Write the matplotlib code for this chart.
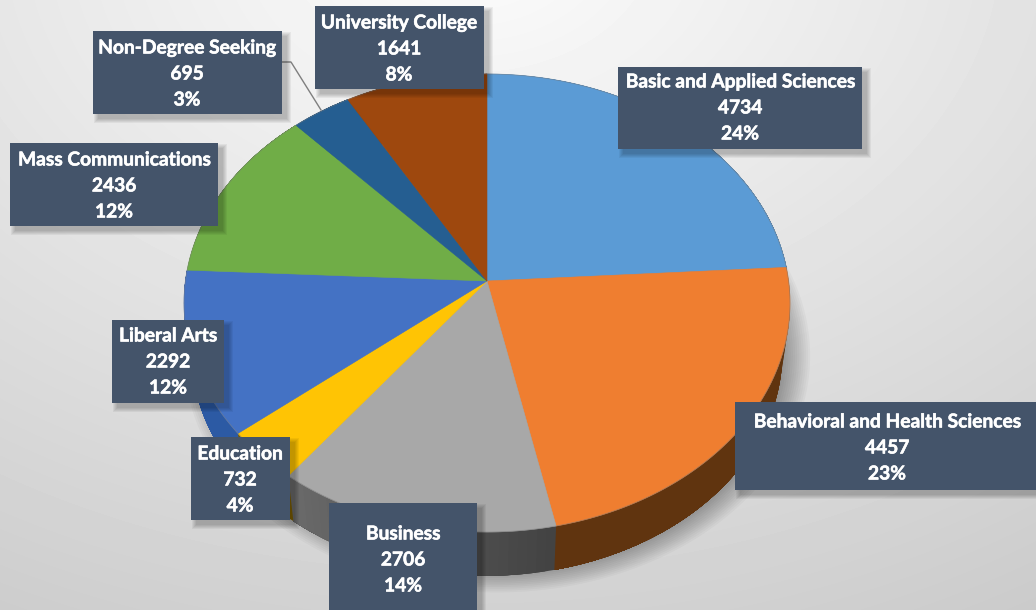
import numpy as np
import matplotlib
matplotlib.use('Agg')
import matplotlib.pyplot as plt
from matplotlib.colors import to_rgb
from matplotlib.patches import Rectangle
import matplotlib.patheffects as pe

names = ['Basic and Applied Sciences', 'Behavioral and Health Sciences', 'Business', 'Education',
         'Liberal Arts', 'Mass Communications', 'Non-Degree Seeking', 'University College']
values = [4734, 4457, 2706, 732, 2292, 2436, 695, 1641]
percents = [24, 23, 14, 4, 12, 12, 3, 8]

top_colors = ['#5b9bd5', '#ef7e30', '#a8a8a8', '#ffc404', '#4472c4', '#70ad47', '#255e91', '#9e480e']
# side colour at the start and the end of each slice
side_start = ['#3d6f9e', '#60340f', '#434343', '#7a5c00', '#2c5aa4', '#4a7a2c', '#1a4468', '#6a3009']
side_end = ['#3d6f9e', '#60340f', '#6a6a6a', '#7a5c00', '#2c5aa4', '#4a7a2c', '#1a4468', '#6a3009']

# label boxes: left, top, right, bottom, text center x, first line y
boxes = [(618, 67, 862, 149, 740, 82), (735, 402, 1040, 490, 887, 422), (329, 503, 477, 615, 403, 534),
         (191, 437, 290, 520, 240, 454), (112, 320, 224, 403, 168, 336), (10, 143, 218, 226, 114, 160),
         (93, 31, 282, 114, 187, 48), (315, 6, 484, 89, 399, 23)]

# pie as a tilted disc: apex, radii and perspective
cx, cy = 487, 281
a, b, p = 301.6, 226.9, 0.0961
depth = 50
shrink = 0.975


def disc(theta, scale=1.0, dx=0.0, dy=0.0):
    u, v = np.sin(theta), np.cos(theta)
    x = cx + dx + scale * a * u / (1 + p * v)
    y = cy + dy - scale * b * v / (1 + p * v)
    return x, y


fig = plt.figure(figsize=(10.36, 6.1), dpi=100)
ax = fig.add_axes([0, 0, 1, 1])
ax.set_xlim(0, 1036)
ax.set_ylim(610, 0)
ax.axis('off')

# background gradient
yy, xx = np.mgrid[0:610, 0:1036]
dist = np.sqrt(((xx - 470) / 1000) ** 2 + ((yy + 60) / 720) ** 2)
bg = np.clip(0.99 - 0.18 * dist, 0, 1)
ax.imshow(bg, cmap='gray', vmin=0, vmax=1, extent=(0, 1036, 610, 0), aspect='auto', zorder=0)

# soft shadow under the pie
full = np.linspace(0, 2 * np.pi, 361)
for s in np.linspace(1.06, 0.95, 16):
    x, y = disc(full, s * shrink, 10, depth + 2)
    ax.fill(x, y, color='black', alpha=0.028, lw=0, zorder=1)

# sides then top faces, strips overlap so no seams show
fracs = np.array(values) / sum(values)
edges = np.concatenate(([0], np.cumsum(fracs))) * 2 * np.pi
for i in range(len(values)):
    cuts = np.linspace(edges[i], edges[i + 1], 31)
    c0, c1 = np.array(to_rgb(side_start[i])), np.array(to_rgb(side_end[i]))
    for k in range(30):
        t = np.linspace(cuts[k], edges[i + 1], 40)
        x1, y1 = disc(t)
        x2, y2 = disc(t, shrink, 0, depth)
        col = c0 + (c1 - c0) * k / 29
        ax.fill(np.r_[x1, x2[::-1]], np.r_[y1, y2[::-1]], color=col, lw=0, zorder=2)
for i in range(len(values)):
    t = np.linspace(edges[i], edges[i + 1], 80)
    x1, y1 = disc(t)
    ax.fill(np.r_[cx, x1], np.r_[cy, y1], color=top_colors[i], lw=0.4, ec=top_colors[i], zorder=3)
x, y = disc(full)
ax.plot(x, y, color='#808080', lw=0.6, alpha=0.5, zorder=3)

# leader line
ax.plot([282, 291, 321], [62, 62, 110], color='#7f7f7f', lw=1, zorder=4)

# labels
for i in range(len(values)):
    left, top, right, bottom, tx, ty = boxes[i]
    for k in range(1, 6):
        ax.add_patch(Rectangle((left + 6 - k, top + 6 - k), right - left + 2 * k - 2, bottom - top + 2 * k - 2,
                               color='black', alpha=0.05, lw=0, zorder=5))
    ax.add_patch(Rectangle((left, top), right - left, bottom - top, color='#44546a', lw=0, zorder=6))
    lines = [names[i], str(values[i]), str(percents[i]) + '%']
    for j in range(3):
        ax.text(tx, ty + j * 26, lines[j], color='white', fontsize=13.8, fontweight='bold', family='Lato',
                ha='center', va='center', zorder=7,
                path_effects=[pe.withStroke(linewidth=0.4, foreground='white')])

fig.savefig('out.png', dpi=100)
